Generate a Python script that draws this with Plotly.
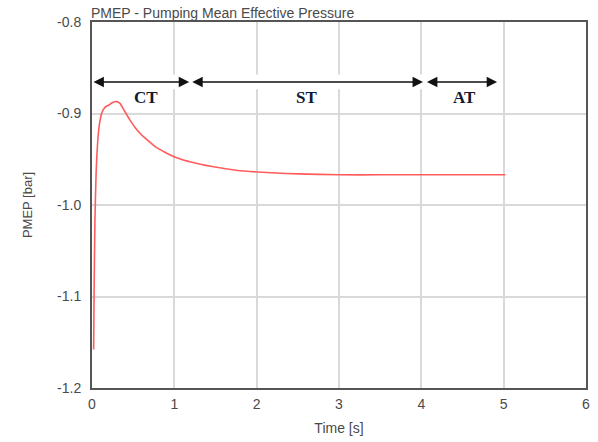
import plotly.graph_objects as go

# Data
time_s = [0.02, 0.025, 0.035, 0.05, 0.07, 0.09, 0.12, 0.16, 0.20, 0.25, 0.30, 0.34, 0.38,
          0.46, 0.53, 0.61, 0.70, 0.78, 0.88, 1.02, 1.2, 1.46, 1.75, 2.02, 2.5, 3.0, 3.5, 4.0, 4.5, 5.02]
pmep_bar = [-1.158, -1.10, -1.02, -0.965, -0.93, -0.912, -0.899, -0.893, -0.891, -0.888, -0.887,
            -0.889, -0.895, -0.907, -0.916, -0.924, -0.931, -0.937, -0.942, -0.948, -0.953, -0.958,
            -0.962, -0.964, -0.966, -0.967, -0.967, -0.967, -0.967, -0.967]

phase_labels = ["CT", "ST", "AT"]
phase_start = [0.0, 1.2, 4.05]
phase_end = [1.18, 4.02, 4.92]
phase_label_x = [0.66, 2.61, 4.52]
arrow_y = -0.8655
label_y = -0.883

x_ticks = [0, 1, 2, 3, 4, 5, 6]
y_ticks = [-1.2, -1.1, -1.0, -0.9, -0.8]
y_ticktext = ["-1.2", "-1.1", "-1.0", "-0.9", "-0.8"]

fig = go.Figure()
fig.add_trace(go.Scatter(x=time_s, y=pmep_bar, mode="lines",
                         line=dict(color="#ff5c5c", width=1.6, shape="spline", smoothing=0.6),
                         showlegend=False, hoverinfo="skip"))

# white band behind the arrows (gridlines break there)
fig.add_shape(type="rect", x0=0.0, x1=4.95, y0=arrow_y - 0.008, y1=arrow_y + 0.008,
              xref="x", yref="y", fillcolor="white", line=dict(width=0), layer="between")

for lab, x0, x1, lx in zip(phase_labels, phase_start, phase_end, phase_label_x):
    fig.add_annotation(x=x1, y=arrow_y, ax=x0, ay=arrow_y, xref="x", yref="y",
                       axref="x", ayref="y", text="", showarrow=True,
                       arrowhead=2, startarrowhead=2, arrowside="end+start",
                       arrowsize=1.3, startarrowsize=1.3, arrowwidth=1.6, arrowcolor="#111111")
    fig.add_annotation(x=lx, y=label_y, xref="x", yref="y", text="<b>%s</b>" % lab,
                       showarrow=False,
                       font=dict(family="Liberation Serif", size=17, color="#111a33"))

fig.add_annotation(x=0, y=1, xref="paper", yref="paper", xanchor="left", yanchor="bottom",
                   text="PMEP - Pumping Mean Effective Pressure", showarrow=False,
                   yshift=-1, xshift=-3,
                   font=dict(family="Liberation Sans", size=14, color="#4a4a4a"))

fig.update_layout(
    width=598, height=442,
    margin=dict(l=92, r=8, t=22, b=54),
    paper_bgcolor="white", plot_bgcolor="white",
    font=dict(family="Liberation Sans", size=14, color="#4a4a4a"),
)
fig.update_xaxes(range=[0, 6], tickvals=x_ticks, showgrid=True, gridcolor="#d9d9d9", gridwidth=1.5,
                 showline=True, linecolor="#555555", linewidth=2, mirror=True, zeroline=False,
                 ticks="outside", ticklen=2, tickcolor="rgba(0,0,0,0)",
                 tickfont=dict(size=14, color="#4a4a4a"),
                 title=dict(text="Time [s]", font=dict(size=14, color="#4a4a4a"), standoff=12))
fig.update_yaxes(range=[-1.2, -0.8], tickvals=y_ticks, ticktext=y_ticktext, showgrid=True,
                 gridcolor="#d9d9d9", gridwidth=1.5,
                 showline=True, linecolor="#555555", linewidth=2, mirror=True, zeroline=False,
                 ticks="outside", ticklen=6, tickcolor="rgba(0,0,0,0)",
                 tickfont=dict(size=14, color="#4a4a4a"),
                 title=dict(text="PMEP [bar]", font=dict(size=13, color="#4a4a4a"), standoff=22))

fig.write_html("out.html")
